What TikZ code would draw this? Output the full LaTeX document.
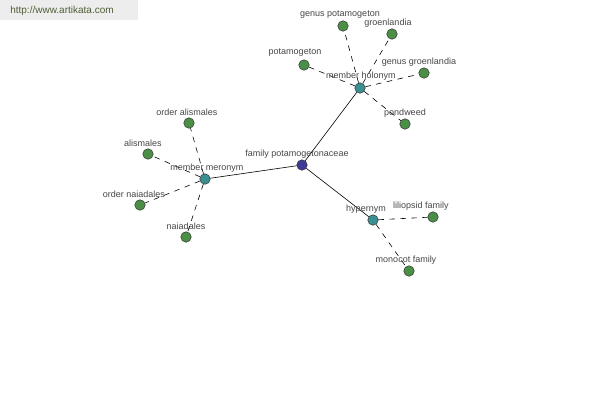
\documentclass[tikz,border=0pt]{standalone}
\usepackage{fontspec}
\setmainfont{Liberation Sans}
\begin{document}
\begin{tikzpicture}[x=1pt,y=-1pt,
  every node/.style={font=\fontsize{9}{10}\selectfont},
  dot/.style={circle,draw=black!80,line width=0.5pt,minimum size=10.5pt,inner sep=0pt},
  leaf/.style={dot,fill=leafc},
  hub/.style={dot,fill=hubc},
  root/.style={dot,fill=rootc},
  lbl/.style={text=black!72,inner sep=0pt},
  rel/.style={line width=0.6pt,black},
  dsh/.style={line width=0.6pt,black,dash pattern=on 5.5pt off 5.5pt}]
\definecolor{leafc}{HTML}{4A8F45}
\definecolor{hubc}{HTML}{3A9090}
\definecolor{rootc}{HTML}{3C3C96}
\definecolor{wmc}{HTML}{4F5F35}
\useasboundingbox (0,0) rectangle (600,400);
\fill[white] (0,0) rectangle (600,400);
\fill[black!7] (0,0) rectangle (138,20);
\node[lbl,text=wmc,font=\fontsize{10}{11}\selectfont] (wm) at (62,11) {http://www.artikata.com};
% nodes
\node[root] (fam) at (302,165) {};
\node[hub] (mer) at (205,179) {};
\node[hub] (hol) at (360,88) {};
\node[hub] (hyp) at (373,220) {};
\node[leaf] (oal) at (189,123) {};
\node[leaf] (ali) at (148,154) {};
\node[leaf] (ona) at (140,205) {};
\node[leaf] (nai) at (186,237) {};
\node[leaf] (gpo) at (343,26) {};
\node[leaf] (gro) at (392,34) {};
\node[leaf] (pot) at (304,65) {};
\node[leaf] (ggr) at (424,73) {};
\node[leaf] (pon) at (405,124) {};
\node[leaf] (lil) at (433,217) {};
\node[leaf] (mon) at (409,271) {};
% edges
\draw[rel] (fam) -- (mer);
\draw[rel] (fam) -- (hol);
\draw[rel] (fam) -- (hyp);
\draw[dsh] (mer) -- (oal);
\draw[dsh] (mer) -- (ali);
\draw[dsh] (mer) -- (ona);
\draw[dsh] (mer) -- (nai);
\draw[dsh] (hol) -- (gpo);
\draw[dsh] (hol) -- (gro);
\draw[dsh] (hol) -- (pot);
\draw[dsh] (hol) -- (ggr);
\draw[dsh] (hol) -- (pon);
\draw[dsh] (hyp) -- (lil);
\draw[dsh] (hyp) -- (mon);
% labels
\node[lbl] (lfam) at (297,154) {family potamogetonaceae};
\node[lbl] (lmer) at (207,168) {member meronym};
\node[lbl] (lhol) at (361,76) {member holonym};
\node[lbl] (lhyp) at (366,209) {hypernym};
\node[lbl] (loal) at (187,112) {order alismales};
\node[lbl] (lali) at (143,143) {alismales};
\node[lbl] (lona) at (134,194) {order naiadales};
\node[lbl] (lnai) at (186,226) {naiadales};
\node[lbl] (lgpo) at (340,15) {genus potamogeton};
\node[lbl] (lgro) at (388,23) {groenlandia};
\node[lbl] (lpot) at (295,53) {potamogeton};
\node[lbl] (lggr) at (419,62) {genus groenlandia};
\node[lbl] (lpon) at (405,113) {pondweed};
\node[lbl] (llil) at (421,206) {liliopsid family};
\node[lbl] (lmon) at (406,260) {monocot family};
\end{tikzpicture}
\end{document}
